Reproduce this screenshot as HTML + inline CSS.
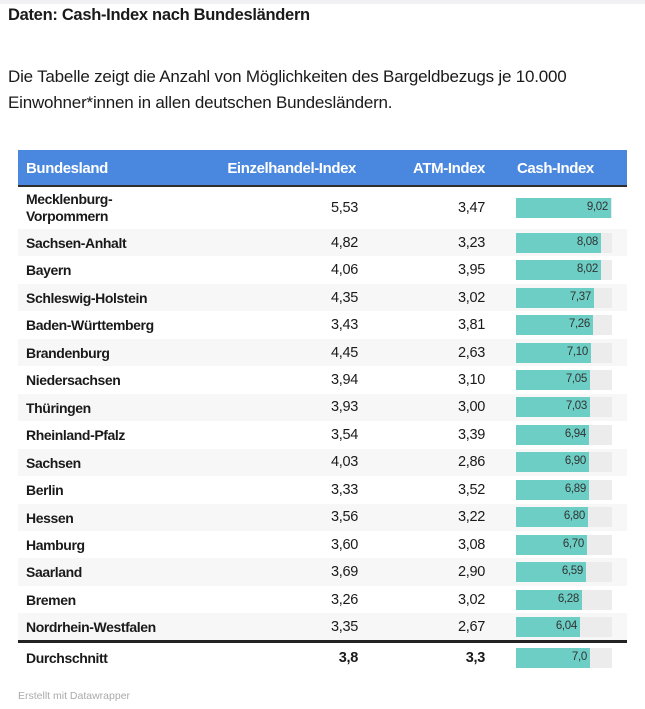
<!DOCTYPE html>
<html><head><meta charset="utf-8"><style>
body{margin:0;width:645px;height:709px;background:#fff;position:relative;overflow:hidden;font-family:"Liberation Sans",sans-serif;color:#1a1a1a}
.t{position:absolute;white-space:nowrap}
.n{font-family:"Liberation Sans Narrow","Liberation Sans",sans-serif}
.row{position:absolute;left:18px;width:609px}
.nm{position:absolute;left:8px;font-weight:bold;font-size:14px;letter-spacing:-0.4px}
.v1{position:absolute;right:269px;font-size:14.5px;letter-spacing:-0.3px}
.v2{position:absolute;right:142px;font-size:14.5px;letter-spacing:-0.3px}
.tr{position:absolute;left:498px;width:96px;height:20px;background:#ececec}
.br{position:absolute;left:0;top:0;height:20px;background:#6ccec4}
.br span{position:absolute;right:3px;top:3px;font-size:11.5px;color:#333;letter-spacing:-0.3px}
.h{color:#fff;font-weight:bold;font-size:15px;letter-spacing:-0.4px;top:160px}
</style></head><body>
<div style="position:absolute;left:0;top:0;width:645px;height:4px;background:#f1f1f4"></div>
<div class="t" style="left:8px;top:6px;font-size:16.5px;font-weight:bold;letter-spacing:-0.3px">Daten: Cash-Index nach Bundesländern</div>
<div class="t" style="left:8px;top:64px;font-size:17px;line-height:26px;letter-spacing:-0.2px">Die Tabelle zeigt die Anzahl von Möglichkeiten des Bargeldbezugs je 10.000<br>Einwohner*innen in allen deutschen Bundesländern.</div>
<div style="position:absolute;left:18px;top:150px;width:609px;height:35px;background:#4a87df;border-bottom:2px solid #2d2d2d"></div>
<div class="t n h" style="left:26px">Bundesland</div>
<div class="t n h" style="right:289px">Einzelhandel-Index</div>
<div class="t n h" style="right:160px">ATM-Index</div>
<div class="t n h" style="left:517px">Cash-Index</div>
<div id="rows"></div>
<div style="position:absolute;left:18px;top:640px;width:609px;height:3px;background:#222"></div>
<div class="t" style="left:18px;top:690px;font-size:10.5px;color:#aaa">Erstellt mit Datawrapper</div>
<script>
var d=[["Sachsen-Anhalt","4,82","3,23",8.08],["Bayern","4,06","3,95",8.02],["Schleswig-Holstein","4,35","3,02",7.37],["Baden-Württemberg","3,43","3,81",7.26],["Brandenburg","4,45","2,63",7.10],["Niedersachsen","3,94","3,10",7.05],["Thüringen","3,93","3,00",7.03],["Rheinland-Pfalz","3,54","3,39",6.94],["Sachsen","4,03","2,86",6.90],["Berlin","3,33","3,52",6.89],["Hessen","3,56","3,22",6.80],["Hamburg","3,60","3,08",6.70],["Saarland","3,69","2,90",6.59],["Bremen","3,26","3,02",6.28],["Nordrhein-Westfalen","3,35","2,67",6.04]];
function f(v){return v.toFixed(2).replace('.',',')}
var h='';
function row(top,ht,name,a,b,v,lab,bold,bg){
 h+='<div class="row" style="top:'+top+'px;height:'+ht+'px;background:'+bg+'">';
 h+=name;
 var fw=bold?'font-weight:bold;':'';
 h+='<div class="v1 n" style="top:'+(ht/2-8)+'px;'+fw+'">'+a+'</div><div class="v2 n" style="top:'+(ht/2-8)+'px;'+fw+'">'+b+'</div>';
 h+='<div class="tr" style="top:'+(ht/2-10)+'px"><div class="br" style="width:'+Math.round(v*10.55)+'px"><span class="n">'+lab+'</span></div></div></div>';
}
row(187,42,'<div class="nm n" style="top:4px;line-height:17px">Mecklenburg-<br>Vorpommern</div>',"5,53","3,47",9.02,"9,02",false,'#fff');
for(var i=0;i<d.length;i++){var t=229+i*27.45;
 row(t,27.45,'<div class="nm n" style="top:6px">'+d[i][0]+'</div>',d[i][1],d[i][2],d[i][3],f(d[i][3]),false,i%2==0?'#f7f7f7':'#fff');}
row(643,30,'<div class="nm n" style="top:7px">Durchschnitt</div>',"3,8","3,3",7.0,"7,0",true,'#fff');
document.getElementById('rows').innerHTML=h;
</script>
</body></html>
